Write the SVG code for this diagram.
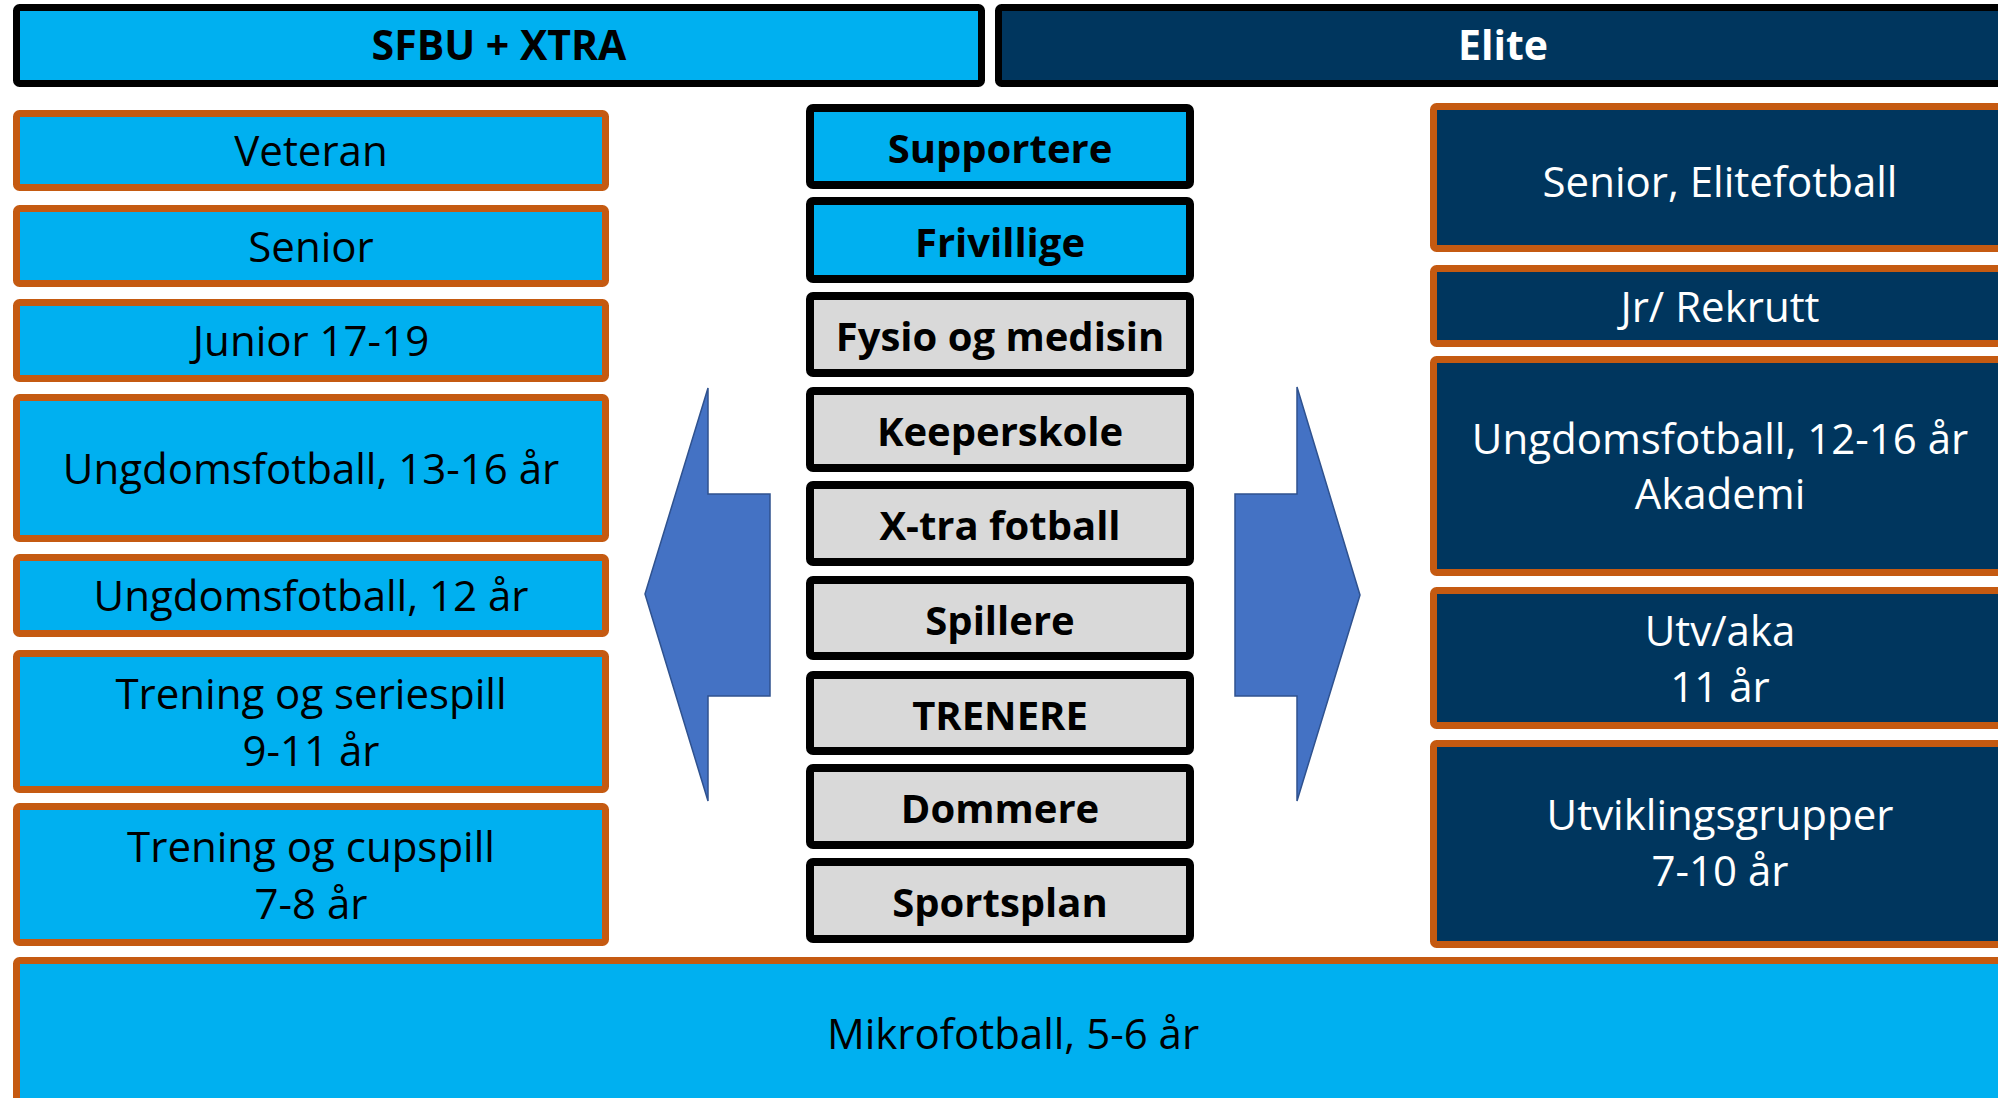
<svg xmlns="http://www.w3.org/2000/svg" width="1998" height="1098" viewBox="0 0 1998 1098">
<style>
.hl{fill:#00B0F0;stroke:#000;stroke-width:7}
.hd{fill:#00365E;stroke:#000;stroke-width:7}
.bl{fill:#00B0F0;stroke:#C55A11;stroke-width:7}
.bd{fill:#00365E;stroke:#C55A11;stroke-width:7}
.cb{fill:#00B0F0;stroke:#000;stroke-width:8}
.cg{fill:#D9D9D9;stroke:#000;stroke-width:8}
.arrow{fill:#4472C4;stroke:#2F528F;stroke-width:1.5}
text{font-family:"Open Sans","Liberation Sans",sans-serif;text-anchor:middle}
.t{font-size:42px;fill:#000}
.tw{font-size:42px;fill:#fff}
.tb{font-size:40px;font-weight:bold;fill:#000}
.hb{font-size:41px;font-weight:bold;fill:#000}
.hw{font-size:41px;font-weight:bold;fill:#fff}
</style>
<rect width="1998" height="1098" fill="#fff"/>
<g id="arrows">
<polygon class="arrow" points="645,594 708,388 708,494 770,494 770,696 708,696 708,801"/>
<polygon class="arrow" points="1235,494 1297,494 1297,387 1360,595 1297,801 1297,696 1235,696"/>
</g>
<g id="header-sfbu"><rect class="hl" x="16.5" y="7.5" width="965" height="76" rx="3"/><text class="hb" x="499" y="60">SFBU + XTRA</text></g>
<g id="header-elite"><rect class="hd" x="998.5" y="7.5" width="1010" height="76" rx="3"/><text class="hw" x="1503" y="60">Elite</text></g>

<g id="veteran"><rect class="bl" x="16.5" y="113.5" width="589" height="74" rx="3"/><text class="t" x="311" y="166">Veteran</text></g>
<g id="senior"><rect class="bl" x="16.5" y="208.5" width="589" height="75" rx="3"/><text class="t" x="311" y="261.5">Senior</text></g>
<g id="junior"><rect class="bl" x="16.5" y="302.5" width="589" height="76" rx="3"/><text class="t" x="311" y="356">Junior 17-19</text></g>
<g id="ungdom-13-16"><rect class="bl" x="16.5" y="397.5" width="589" height="141" rx="3"/><text class="t" x="311" y="483.5">Ungdomsfotball, 13-16 år</text></g>
<g id="ungdom-12"><rect class="bl" x="16.5" y="557.5" width="589" height="76" rx="3"/><text class="t" x="311" y="611">Ungdomsfotball, 12 år</text></g>
<g id="trening-serie"><rect class="bl" x="16.5" y="653.5" width="589" height="136" rx="3"/><text class="t" x="311" y="708.5">Trening og seriespill</text><text class="t" x="311" y="765.5">9-11 år</text></g>
<g id="trening-cup"><rect class="bl" x="16.5" y="806.5" width="589" height="136" rx="3"/><text class="t" x="311" y="861.5">Trening og cupspill</text><text class="t" x="311" y="918.5">7-8 år</text></g>
<g id="mikro"><rect class="bl" x="16.5" y="960.5" width="2000" height="200" rx="3"/><text class="t" x="1013" y="1048.5">Mikrofotball, 5-6 år</text></g>

<g id="supportere"><rect class="cb" x="810" y="108" width="380" height="77" rx="3"/><text class="tb" x="1000" y="163">Supportere</text></g>
<g id="frivillige"><rect class="cb" x="810" y="201" width="380" height="78" rx="3"/><text class="tb" x="1000" y="256.5">Frivillige</text></g>
<g id="fysio"><rect class="cg" x="810" y="296" width="380" height="77" rx="3"/><text class="tb" x="1000" y="351">Fysio og medisin</text></g>
<g id="keeperskole"><rect class="cg" x="810" y="391" width="380" height="77" rx="3"/><text class="tb" x="1000" y="446">Keeperskole</text></g>
<g id="xtra"><rect class="cg" x="810" y="485" width="380" height="77" rx="3"/><text class="tb" x="1000" y="540">X-tra fotball</text></g>
<g id="spillere"><rect class="cg" x="810" y="580" width="380" height="76" rx="3"/><text class="tb" x="1000" y="634.5">Spillere</text></g>
<g id="trenere"><rect class="cg" x="810" y="675" width="380" height="76" rx="3"/><text class="tb" x="1000" y="729.5">TRENERE</text></g>
<g id="dommere"><rect class="cg" x="810" y="768" width="380" height="77" rx="3"/><text class="tb" x="1000" y="823">Dommere</text></g>
<g id="sportsplan"><rect class="cg" x="810" y="862" width="380" height="77" rx="3"/><text class="tb" x="1000" y="917">Sportsplan</text></g>

<g id="senior-elite"><rect class="bd" x="1433.5" y="106.5" width="574" height="142" rx="3"/><text class="tw" x="1720" y="197">Senior, Elitefotball</text></g>
<g id="jr-rekrutt"><rect class="bd" x="1433.5" y="268.5" width="574" height="75" rx="3"/><text class="tw" x="1720" y="321.5">Jr/ Rekrutt</text></g>
<g id="ungdom-12-16"><rect class="bd" x="1433.5" y="359.5" width="574" height="213" rx="3"/><text class="tw" x="1720" y="453.5">Ungdomsfotball, 12-16 år</text><text class="tw" x="1720" y="508.5">Akademi</text></g>
<g id="utv-aka"><rect class="bd" x="1433.5" y="590.5" width="574" height="135" rx="3"/><text class="tw" x="1720" y="645.5">Utv/aka</text><text class="tw" x="1720" y="701.5">11 år</text></g>
<g id="utviklingsgrupper"><rect class="bd" x="1433.5" y="743.5" width="574" height="201" rx="3"/><text class="tw" x="1720" y="829.5">Utviklingsgrupper</text><text class="tw" x="1720" y="885.5">7-10 år</text></g>
</svg>
